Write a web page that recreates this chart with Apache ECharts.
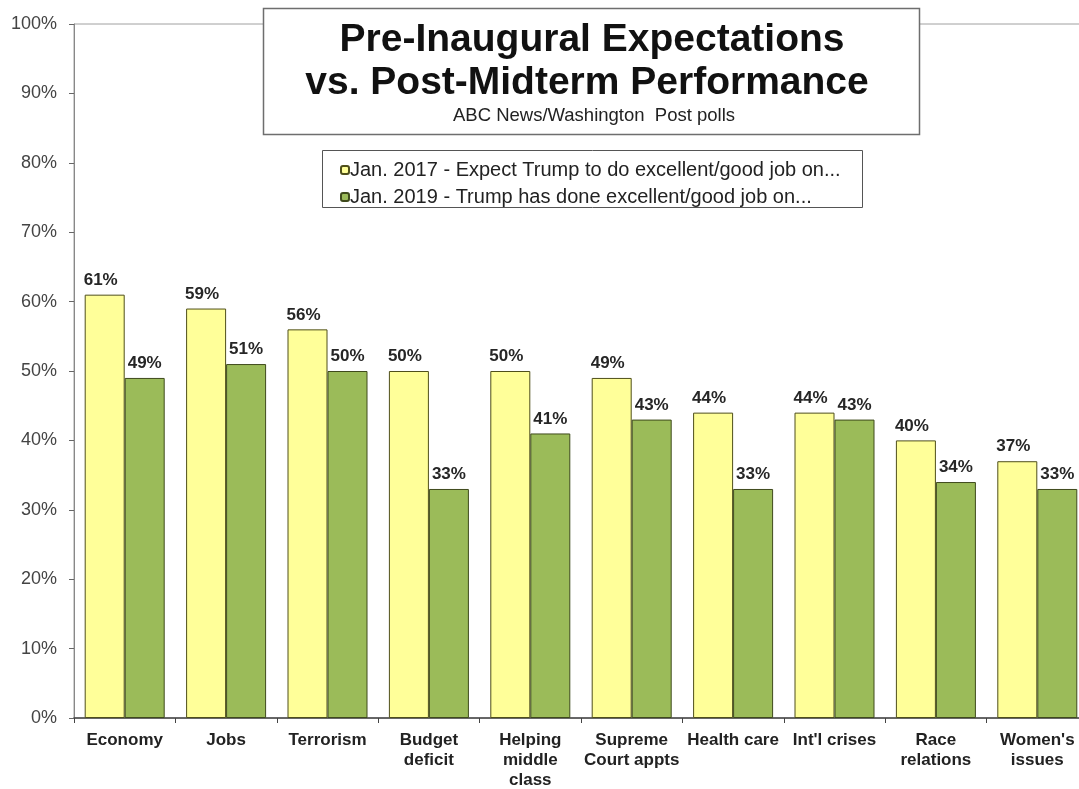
<!DOCTYPE html>
<html><head><meta charset="utf-8">
<script src="https://cdn.jsdelivr.net/npm/echarts@6/dist/echarts.min.js"></script>
<style>html,body{margin:0;padding:0;background:#fff}#c{width:1079px;height:789px}</style>
</head><body><div id="c"></div>
<script>
var categories = ['Economy','Jobs','Terrorism','Budget\ndeficit','Helping\nmiddle\nclass','Supreme\nCourt appts','Health care',"Int'l crises",'Race\nrelations',"Women's\nissues"];
var expect2017 = [61,59,56,50,50,49,44,44,40,37];
var done2019 = [49,51,50,33,41,43,33,43,34,33];
var seriesNames = ['Jan. 2017 - Expect Trump to do excellent/good job on...','Jan. 2019 - Trump has done excellent/good job on...'];
var yTicks = [0,10,20,30,40,50,60,70,80,90,100];

var chart = echarts.init(document.getElementById('c'));
var font = '"Liberation Sans", Arial, sans-serif';
function lbl(dx){
  return {show:true, position:'top', formatter:'{c}%', fontFamily:font, fontWeight:'bold', fontSize:17, color:'#262626', distance:6, offset:[dx,0]};
}
chart.setOption({
  animation:false,
  textStyle:{fontFamily:font},
  grid:{left:74, top:24, width:1014, bottom:71, outerBoundsMode:'none', containLabel:false, show:true, borderColor:'#a0a0a0', borderWidth:1},
  graphic:[
    {type:'rect', shape:{x:263.5,y:8.5,width:656,height:126}, style:{fill:'#fff', stroke:'#6e6e6e', lineWidth:1.5}, z:10},
    {type:'text', style:{x:592, y:40, text:'Pre-Inaugural Expectations', font:'bold 39px '+font, fill:'#111', textAlign:'center', textVerticalAlign:'middle'}, z:11},
    {type:'text', style:{x:587, y:83, text:'vs. Post-Midterm Performance', font:'bold 39px '+font, fill:'#111', textAlign:'center', textVerticalAlign:'middle'}, z:11},
    {type:'text', style:{x:594, y:116, text:'ABC News/Washington  Post polls', font:'18.5px '+font, fill:'#222', textAlign:'center', textVerticalAlign:'middle'}, z:11},
    {type:'rect', shape:{x:322.5,y:150.5,width:540,height:57}, style:{fill:'#fff', stroke:'#555', lineWidth:1}, z:10}
  ],
  legend:{
    orient:'vertical', left:335, top:155, itemWidth:8, itemHeight:8, itemGap:7, z:12,
    textStyle:{fontFamily:font, fontSize:20, color:'#222', padding:[0,0,0,-4]},
    data:seriesNames
  },
  xAxis:{
    type:'category', data:categories,
    axisLine:{lineStyle:{color:'#444', width:1.5}},
    axisTick:{show:true, length:5, lineStyle:{color:'#444'}},
    axisLabel:{fontFamily:font, fontWeight:'bold', fontSize:17, color:'#222', lineHeight:20, margin:12, interval:0}
  },
  yAxis:{
    type:'value', min:0, max:100, interval:10,
    axisLine:{show:true, lineStyle:{color:'#888'}},
    axisTick:{show:true, length:5, lineStyle:{color:'#666'}},
    splitLine:{show:false},
    axisLabel:{formatter:'{value}%', fontFamily:font, fontSize:18, color:'#444', margin:17}
  },
  series:[
    {name:seriesNames[0], type:'bar', data:expect2017, barWidth:40, barGap:'0%',
     itemStyle:{color:'#ffff99', borderColor:'#4f4f1a', borderWidth:1}, label:lbl(-4)},
    {name:seriesNames[1], type:'bar', data:done2019, barWidth:40, barGap:'0%',
     itemStyle:{color:'#9bbb59', borderColor:'#3f4a1c', borderWidth:1}, label:lbl(0)}
  ]
});
</script></body></html>
